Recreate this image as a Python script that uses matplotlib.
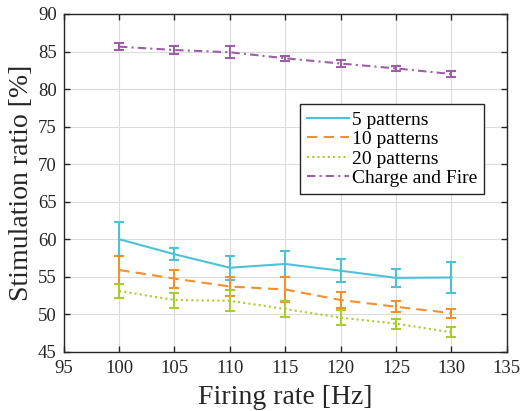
import matplotlib.pyplot as plt

# --- data ---
rate = [100, 105, 110, 115, 120, 125, 130]

p5 = [60.0, 58.0, 56.2, 56.7, 55.8, 54.85, 54.9]
p5_err = [2.3, 0.8, 1.6, 1.7, 1.5, 1.2, 2.1]

p10 = [55.9, 54.75, 53.7, 53.3, 51.9, 51.0, 50.15]
p10_err = [1.85, 1.2, 1.2, 1.7, 1.1, 0.75, 0.6]

p20 = [53.1, 51.9, 51.8, 50.7, 49.55, 48.75, 47.6]
p20_err = [0.95, 1.0, 1.4, 1.1, 1.0, 0.65, 0.65]

cf = [85.65, 85.2, 84.9, 84.1, 83.4, 82.75, 82.0]
cf_err = [0.45, 0.5, 0.8, 0.35, 0.45, 0.35, 0.4]

plt.rcParams['font.family'] = ['Liberation Serif', 'DejaVu Serif']

fig = plt.figure(figsize=(5.22, 4.11), dpi=100)
ax = fig.add_axes([0.122, 0.144, 0.849, 0.822])

series = [
    (p5, p5_err, '#4EC2D4', '-', '5 patterns'),
    (p10, p10_err, '#F2902E', (0, (5, 3)), '10 patterns'),
    (p20, p20_err, '#ABCB33', (0, (1, 1.5)), '20 patterns'),
    (cf, cf_err, '#9C5FA6', (0, (4, 2, 1, 2)), 'Charge and Fire'),
]
handles = []
for vals, errs, col, ls, lab in series:
    eb = ax.errorbar(rate, vals, yerr=errs, color=col, linestyle=ls, linewidth=1.5,
                     capsize=3.5, capthick=1.5, elinewidth=1.5, label=lab)
    handles.append(eb.lines[0])

ax.set_xlim(95, 135)
ax.set_ylim(45, 90)
ax.set_xticks(range(95, 136, 5))
ax.set_yticks(range(45, 91, 5))
ax.grid(True, color='#dcdcdc', linewidth=0.8)
ax.set_axisbelow(True)
ax.tick_params(direction='in', top=True, right=True, length=4, width=1,
               labelsize=13.5, colors='#262626')
ax.tick_params(axis='x', pad=6)
ax.tick_params(axis='y', pad=5)
for s in ax.spines.values():
    s.set_color('#262626')
    s.set_linewidth(1)

ax.set_xlabel('Firing rate [Hz]', fontsize=20, color='#262626', labelpad=6)
ax.set_ylabel('Stimulation ratio [%]', fontsize=20, color='#262626', labelpad=3)

leg = ax.legend(handles=handles, labels=[s[4] for s in series],
                loc='upper right', bbox_to_anchor=(0.949, 0.733), borderaxespad=0,
                fontsize=14, fancybox=False, framealpha=1, edgecolor='#262626',
                handlelength=2.2, handletextpad=0.15, labelspacing=0.1,
                borderpad=0.35)
leg.get_frame().set_linewidth(1)

fig.savefig('out.png', dpi=100)
